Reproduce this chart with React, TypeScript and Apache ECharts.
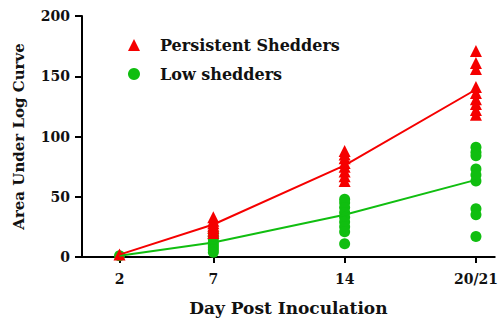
import React, { useEffect, useRef } from "react";
import * as echarts from "echarts";

const days = [2, 7, 14, 21];
const dayLabels = ["2", "7", "14", "20/21"];
const persistentMean = [2, 27, 76, 139];
const lowMean = [1, 12, 35, 64];
const persistentDay2 = [2];
const persistentDay7 = [33, 30, 28, 26, 24, 22, 20];
const persistentDay14 = [88, 85, 82, 78, 75, 71, 67, 63];
const persistentDay21 = [171, 161, 156, 141, 136, 131, 127, 122, 118];
const lowDay2 = [1];
const lowDay7 = [20, 17, 15, 12, 10, 8, 6, 4];
const lowDay14 = [48, 45, 41, 37, 33, 29, 25, 21, 11];
const lowDay21 = [91, 87, 84, 73, 68, 63, 40, 35, 17];
const yTicks = [0, 50, 100, 150, 200];

const RED = "#F50000";
const GREEN = "#10BE10";
const FONT = "DejaVu Serif";

function pairs(day: number, vals: number[]) {
  return vals.map((v) => [day, v]);
}

export default function App() {
  const ref = useRef<HTMLDivElement>(null);
  useEffect(() => {
    if (!ref.current) return;
    const chart = echarts.init(ref.current, null, { renderer: "svg" });
    const persistentPts = [
      ...pairs(days[0], persistentDay2),
      ...pairs(days[1], persistentDay7),
      ...pairs(days[2], persistentDay14),
      ...pairs(days[3], persistentDay21),
    ];
    const lowPts = [
      ...pairs(days[0], lowDay2),
      ...pairs(days[1], lowDay7),
      ...pairs(days[2], lowDay14),
      ...pairs(days[3], lowDay21),
    ];
    chart.setOption({
      animation: false,
      backgroundColor: "#ffffff",
      grid: { left: 82, right: 2, top: 16, bottom: 57 },
      legend: {
        orient: "vertical",
        left: 123,
        top: 32,
        itemWidth: 12,
        itemHeight: 12,
        itemGap: 13,
        textStyle: {
          fontFamily: FONT,
          fontWeight: "bold",
          fontSize: 16,
          color: "#111",
          padding: [0, 0, 0, 15],
        },
        data: [
          { name: "Persistent Shedders", icon: "triangle" },
          { name: "Low shedders", icon: "circle" },
        ],
      },
      xAxis: {
        type: "value",
        min: 0,
        max: 22,
        name: "Day Post Inoculation",
        nameLocation: "middle",
        nameGap: 42,
        nameTextStyle: { fontFamily: FONT, fontWeight: "bold", fontSize: 17, color: "#111" },
        axisLine: { lineStyle: { color: "#000", width: 2 } },
        axisTick: { show: true, length: 6, lineStyle: { color: "#000", width: 2 }, customValues: days },
        axisLabel: {
          customValues: days,
          margin: 15,
          fontFamily: FONT,
          fontWeight: "bold",
          fontSize: 14,
          color: "#111",
          formatter: (v: number) => {
            const i = days.indexOf(v);
            return i >= 0 ? dayLabels[i] : "";
          },
        },
        splitLine: { show: false },
      },
      yAxis: {
        type: "value",
        min: yTicks[0],
        max: yTicks[yTicks.length - 1],
        interval: 50,
        name: "Area Under Log Curve",
        nameLocation: "middle",
        nameGap: 56,
        nameTextStyle: { fontFamily: FONT, fontWeight: "bold", fontSize: 15, color: "#111" },
        axisLine: { show: true, lineStyle: { color: "#000", width: 2 } },
        axisTick: { show: true, length: 7, lineStyle: { color: "#000", width: 2 } },
        axisLabel: { margin: 12, fontFamily: FONT, fontWeight: "bold", fontSize: 14, color: "#111" },
        splitLine: { show: false },
      },
      series: [
        {
          name: "Low shedders",
          type: "scatter",
          symbol: "circle",
          symbolSize: 11,
          itemStyle: { color: GREEN, opacity: 1 },
          data: lowPts,
          z: 2,
        },
        {
          name: "Persistent Shedders",
          type: "scatter",
          symbol: "triangle",
          symbolSize: 12,
          itemStyle: { color: RED, opacity: 1 },
          data: persistentPts,
          z: 3,
        },
        {
          name: "Low mean",
          type: "line",
          symbol: "none",
          lineStyle: { color: GREEN, width: 2 },
          data: days.map((d, i) => [d, lowMean[i]]),
          z: 4,
        },
        {
          name: "Persistent mean",
          type: "line",
          symbol: "none",
          lineStyle: { color: RED, width: 2 },
          data: days.map((d, i) => [d, persistentMean[i]]),
          z: 5,
        },
      ],
    });
    return () => chart.dispose();
  }, []);
  return <div ref={ref} style={{ width: 501, height: 321, position: "absolute", left: 0, top: 0 }} />;
}
